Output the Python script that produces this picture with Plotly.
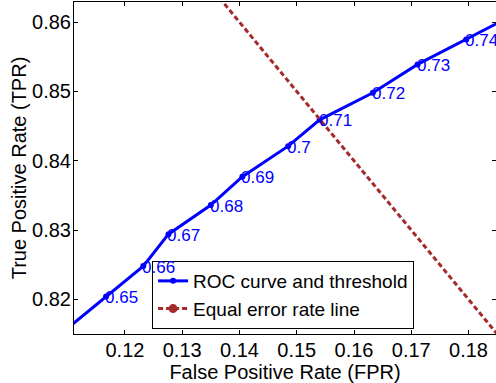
import plotly.graph_objects as go

# ROC curve data (FPR, TPR); the first and last points lie just outside the visible range
roc_fpr = [0.1095, 0.1167, 0.1232, 0.1276, 0.1350, 0.1405, 0.1485, 0.1540, 0.1633, 0.1711, 0.1796, 0.1880]
roc_tpr = [0.8155, 0.8204, 0.8248, 0.8294, 0.8336, 0.8377, 0.8421, 0.8459, 0.8498, 0.8539, 0.8575, 0.8611]
# threshold labels of the visible points (index 1 .. 10)
thresholds = ["0.65", "0.66", "0.67", "0.68", "0.69", "0.7", "0.71", "0.72", "0.73", "0.74"]

# Equal error rate line (TPR = 1 - FPR)
eer_fpr = [0.10, 0.20]
eer_tpr = [0.90, 0.80]

x_ticks = [0.12, 0.13, 0.14, 0.15, 0.16, 0.17, 0.18]
y_ticks = [0.82, 0.83, 0.84, 0.85, 0.86]

FONT = "Liberation Sans, Arial, Helvetica, sans-serif"

fig = go.Figure()

fig.add_trace(go.Scatter(
    x=roc_fpr, y=roc_tpr, mode="lines+markers",
    name="ROC curve and threshold",
    line=dict(color="#0000ff", width=3),
    marker=dict(symbol="circle", size=6, color="#0000ff"),
    cliponaxis=True,
))
fig.add_trace(go.Scatter(
    x=eer_fpr, y=eer_tpr, mode="lines+markers",
    name="Equal error rate line",
    line=dict(color="#a52a2a", width=3, dash="5px,3px"),
    marker=dict(symbol="circle", size=9, color="#a52a2a"),
    cliponaxis=True,
))

for xv, yv, lab in zip(roc_fpr[1:-1], roc_tpr[1:-1], thresholds):
    fig.add_annotation(
        x=xv, y=yv, text=lab, showarrow=False,
        xanchor="left", yanchor="middle", xshift=-3, yshift=-1,
        font=dict(color="#0000ff", size=17, family=FONT),
    )

axis_common = dict(
    showline=True, linecolor="black", linewidth=1, mirror="ticks",
    ticks="inside", ticklen=4, tickcolor="black",
    showgrid=False, zeroline=False, automargin=False,
    tickfont=dict(size=20, color="black", family=FONT),
    title_font=dict(size=20, color="black", family=FONT),
)

fig.update_xaxes(range=[0.1111, 0.1848], tickvals=x_ticks, tickformat=".2f",
                 title_text="False Positive Rate (FPR)", title_standoff=0,
                 ticklabelstandoff=-2, **axis_common)
fig.update_yaxes(range=[0.8150, 0.8629], tickvals=y_ticks, tickformat=".2f",
                 title_text="True Positive Rate (TPR)", title_standoff=0,
                 ticklabelstandoff=-2, **axis_common)

fig.update_layout(
    width=496, height=383,
    margin=dict(l=74, r=0, t=2, b=49),
    paper_bgcolor="white", plot_bgcolor="white",
    font=dict(family=FONT, color="black"),
    legend=dict(
        x=0.185, y=0.015, xanchor="left", yanchor="bottom",
        bgcolor="white", bordercolor="black", borderwidth=1,
        font=dict(size=19, color="black", family=FONT),
        tracegroupgap=0,
    ),
    showlegend=True,
)

fig.write_html(
    "out.html",
    config={"displayModeBar": False},
    post_script="document.body.style.margin='0';document.body.style.overflow='hidden';",
)
